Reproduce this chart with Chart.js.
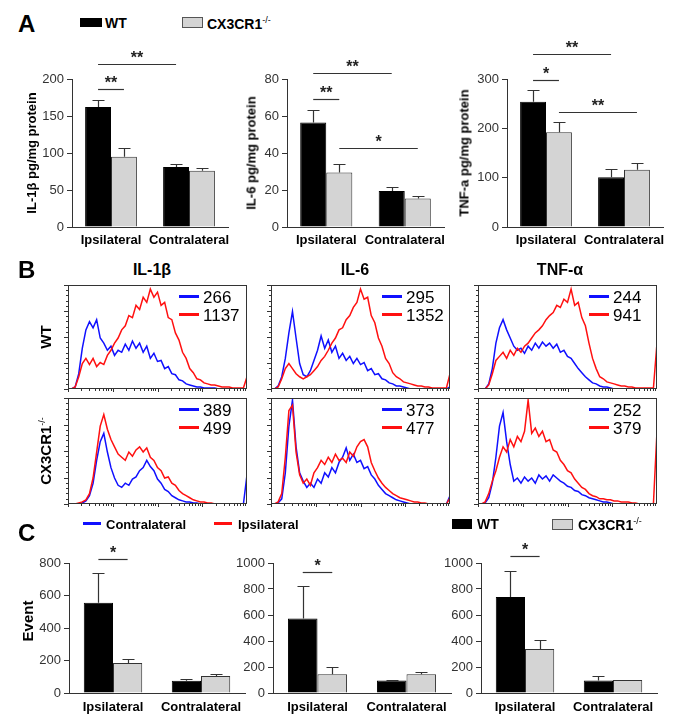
<!DOCTYPE html>
<html>
<head>
<meta charset="utf-8">
<script src="https://cdn.jsdelivr.net/npm/chart.js@4.4.1/dist/chart.umd.min.js"></script>
<style>
html, body { margin: 0; padding: 0; background: #fff; }
body { position: relative; width: 685px; height: 727px; overflow: hidden; font-family: 'Liberation Sans', Arial, sans-serif; }
canvas { position: absolute; }
.t { position: absolute; white-space: nowrap; line-height: 1; color: #000; }
.sw { position: absolute; }
.sup { font-size: 9px; vertical-align: 6px; font-weight: normal; }
</style>
</head>
<body>
<script>
// ===================================
// DATA
// ===================================

const groups = ['Ipsilateral', 'Contralateral'];

// Panel A: cytokine levels (pg/mg protein), mean and SEM
const il1bWT = [162, 81];
const il1bWTErr = [9, 4];
const il1bKO = [95, 76];
const il1bKOErr = [12, 4];
const il6WT = [56.5, 19.4];
const il6WTErr = [6.6, 2.3];
const il6KO = [29.4, 15.4];
const il6KOErr = [4.9, 1.4];
const tnfWT = [254, 101];
const tnfWTErr = [24, 16];
const tnfKO = [192, 116];
const tnfKOErr = [20, 14];

// Panel C: events
const evIl1bWT = [555, 75];
const evIl1bWTErr = [184, 10];
const evIl1bKO = [184, 104];
const evIl1bKOErr = [24, 10];
const evIl6WT = [574, 97];
const evIl6WTErr = [249, 3];
const evIl6KO = [145, 145];
const evIl6KOErr = [54, 13];
const evTnfWT = [739, 97];
const evTnfWTErr = [199, 36];
const evTnfKO = [339, 100];
const evTnfKOErr = [69, 2];

// significance brackets: [dataset a, group a, dataset b, group b, height (data units), label]
const sigIl1b = [[0, 0, 1, 0, 186, '**'], [0, 0, 0, 1, 220, '**']];
const sigIl6 = [[0, 0, 1, 0, 69.4, '**'], [0, 0, 0, 1, 83.4, '**'], [1, 0, 1, 1, 42.5, '*']];
const sigTnf = [[0, 0, 1, 0, 298.6, '*'], [0, 0, 0, 1, 351, '**'], [1, 0, 1, 1, 234, '**']];
const sigEvIl1b = [[0, 0, 1, 0, 826, '*']];
const sigEvIl6 = [[0, 0, 1, 0, 928, '*']];
const sigEvTnf = [[0, 0, 1, 0, 1051, '*']];

// Panel B: histogram channel position (% of axis) and normalised counts
const histX = [0, 2, 4, 6, 8, 10, 12, 14, 16, 18, 20, 22, 24, 26, 28, 30, 32, 34, 36, 38,
    40, 42, 44, 46, 48, 50, 52, 54, 56, 58, 60, 62, 64, 66, 68, 70, 72, 74, 76, 78,
    80, 82, 84, 86, 88, 90, 92, 94, 96, 98, 100];

const il1bWtContra = [0, 0, 0.02, 0.15, 0.4, 0.58, 0.66, 0.6, 0.68, 0.5,
    0.45, 0.38, 0.42, 0.33, 0.38, 0.36, 0.44, 0.38, 0.47, 0.4,
    0.45, 0.36, 0.42, 0.3, 0.35, 0.27, 0.28, 0.2, 0.22, 0.15,
    0.14, 0.09, 0.08, 0.05, 0.04, 0.03, 0.02, 0.02, 0.01, 0.01,
    0.01, 0.01, 0, 0, 0, 0, 0, 0, 0, 0, 0];
const il1bWtIpsi = [0, 0, 0.02, 0.12, 0.25, 0.3, 0.24, 0.3, 0.22, 0.26,
    0.24, 0.33, 0.38, 0.45, 0.5, 0.58, 0.62, 0.72, 0.7, 0.82,
    0.78, 0.9, 0.85, 0.98, 0.9, 0.95, 0.82, 0.85, 0.7, 0.68,
    0.55, 0.48, 0.36, 0.3, 0.2, 0.16, 0.1, 0.09, 0.06, 0.05,
    0.04, 0.04, 0.03, 0.02, 0.02, 0.02, 0.01, 0.01, 0.01, 0.01, 0.12];

const il6WtContra = [0, 0, 0.03, 0.12, 0.3, 0.55, 0.76, 0.5, 0.25, 0.14,
    0.12, 0.18, 0.28, 0.38, 0.52, 0.4, 0.48, 0.36, 0.42, 0.3,
    0.35, 0.28, 0.32, 0.25, 0.3, 0.24, 0.26, 0.18, 0.2, 0.14,
    0.15, 0.1, 0.09, 0.06, 0.05, 0.03, 0.03, 0.02, 0.01, 0,
    0, 0, 0, 0, 0, 0, 0, 0, 0, 0, 0.02];
const il6WtIpsi = [0, 0, 0.02, 0.1, 0.2, 0.25, 0.2, 0.15, 0.12, 0.1,
    0.12, 0.14, 0.18, 0.22, 0.28, 0.32, 0.38, 0.45, 0.5, 0.58,
    0.6, 0.68, 0.72, 0.8, 0.85, 0.98, 0.88, 0.9, 0.72, 0.65,
    0.5, 0.42, 0.3, 0.25, 0.16, 0.12, 0.1, 0.07, 0.06, 0.05,
    0.04, 0.03, 0.03, 0.02, 0.02, 0.01, 0.01, 0.01, 0.01, 0.01, 0.15];

const tnfWtContra = [0, 0, 0, 0.05, 0.2, 0.45, 0.6, 0.68, 0.58, 0.5,
    0.42, 0.38, 0.4, 0.35, 0.42, 0.38, 0.45, 0.4, 0.46, 0.42,
    0.45, 0.4, 0.44, 0.36, 0.38, 0.32, 0.3, 0.25, 0.2, 0.16,
    0.12, 0.09, 0.06, 0.05, 0.03, 0.02, 0.02, 0.01, 0, 0,
    0, 0, 0, 0, 0, 0, 0, 0, 0, 0, 0];
const tnfWtIpsi = [0, 0, 0, 0.04, 0.15, 0.28, 0.32, 0.36, 0.3, 0.38,
    0.33, 0.4, 0.36, 0.42, 0.45, 0.5, 0.55, 0.58, 0.62, 0.68,
    0.72, 0.75, 0.82, 0.8, 0.88, 0.85, 0.98, 0.82, 0.85, 0.7,
    0.62, 0.45, 0.3, 0.2, 0.12, 0.1, 0.07, 0.06, 0.05, 0.04,
    0.03, 0.03, 0.02, 0.02, 0.01, 0.01, 0.01, 0.01, 0.01, 0.01, 0.45];

const il1bKoContra = [0, 0, 0, 0, 0.01, 0.03, 0.08, 0.2, 0.42, 0.6,
    0.68, 0.5, 0.35, 0.25, 0.18, 0.16, 0.2, 0.18, 0.24, 0.26,
    0.32, 0.35, 0.42, 0.36, 0.32, 0.24, 0.2, 0.14, 0.12, 0.08,
    0.06, 0.04, 0.03, 0.02, 0.02, 0.01, 0.01, 0, 0, 0,
    0, 0, 0, 0, 0, 0, 0, 0, 0, 0, 0.28];
const il1bKoIpsi = [0, 0, 0, 0.01, 0.02, 0.04, 0.1, 0.25, 0.5, 0.75,
    0.86, 0.72, 0.62, 0.55, 0.48, 0.45, 0.42, 0.5, 0.46, 0.52,
    0.55, 0.5, 0.54, 0.45, 0.42, 0.35, 0.32, 0.25, 0.26, 0.2,
    0.18, 0.13, 0.1, 0.08, 0.06, 0.04, 0.03, 0.02, 0.02, 0.01,
    0.01, 0, 0, 0, 0, 0, 0, 0, 0, 0, 0];

const il6KoContra = [0, 0, 0.01, 0.05, 0.3, 0.75, 1.0, 0.55, 0.3, 0.22,
    0.16, 0.2, 0.16, 0.24, 0.2, 0.3, 0.26, 0.35, 0.3, 0.4,
    0.45, 0.54, 0.42, 0.48, 0.4, 0.42, 0.34, 0.36, 0.28, 0.24,
    0.18, 0.14, 0.1, 0.08, 0.06, 0.04, 0.03, 0.02, 0.01, 0,
    0, 0, 0, 0, 0, 0, 0, 0, 0, 0, 0.08];
const il6KoIpsi = [0, 0, 0.02, 0.1, 0.45, 0.9, 0.95, 0.5, 0.28, 0.2,
    0.24, 0.18, 0.3, 0.35, 0.42, 0.38, 0.45, 0.4, 0.48, 0.42,
    0.44, 0.4, 0.5, 0.46, 0.55, 0.6, 0.62, 0.55, 0.4, 0.32,
    0.25, 0.2, 0.16, 0.13, 0.1, 0.08, 0.06, 0.05, 0.04, 0.03,
    0.02, 0.02, 0.01, 0.01, 0, 0, 0, 0, 0, 0, 0.06];

const tnfKoContra = [0, 0, 0.01, 0.06, 0.2, 0.45, 0.75, 0.88, 0.6, 0.38,
    0.22, 0.25, 0.2, 0.26, 0.22, 0.25, 0.2, 0.28, 0.24, 0.27,
    0.22, 0.28, 0.25, 0.22, 0.2, 0.17, 0.16, 0.13, 0.12, 0.09,
    0.08, 0.06, 0.05, 0.04, 0.03, 0.02, 0.02, 0.01, 0, 0,
    0, 0, 0, 0, 0, 0, 0, 0, 0, 0, 0];
const tnfKoIpsi = [0, 0, 0.02, 0.1, 0.22, 0.32, 0.45, 0.55, 0.5, 0.62,
    0.55, 0.65, 0.6, 0.7, 1.0, 0.68, 0.73, 0.65, 0.7, 0.6,
    0.62, 0.52, 0.5, 0.42, 0.38, 0.32, 0.3, 0.24, 0.2, 0.16,
    0.14, 0.1, 0.08, 0.07, 0.05, 0.05, 0.04, 0.04, 0.03, 0.03,
    0.02, 0.02, 0.02, 0.01, 0.01, 0, 0, 0, 0, 0, 0.7];

// mean fluorescence values shown in the histogram legends
const histTitles = ['IL-1β', 'IL-6', 'TNF-α'];
const mfiContraWT = [266, 295, 244];
const mfiIpsiWT = [1137, 1352, 941];
const mfiContraKO = [389, 373, 252];
const mfiIpsiKO = [499, 477, 379];

// ===================================
// HELPERS
// ===================================

const FONT = "'Liberation Sans', Arial, sans-serif";
const BLUE = '#1010ff';
const RED = '#ff1010';

function makeCanvas(left, top, w, h) {
    const c = document.createElement('canvas');
    c.width = w;
    c.height = h;
    c.style.left = left + 'px';
    c.style.top = top + 'px';
    document.body.appendChild(c);
    return c;
}

function addText(html, x, y, css, align, rotate) {
    const d = document.createElement('div');
    d.className = 't';
    d.innerHTML = html;
    d.style.left = x + 'px';
    d.style.top = y + 'px';
    const tx = align === 'center' ? '-50%' : (align === 'right' ? '-100%' : '0');
    d.style.transform = 'translate(' + tx + ',-50%)' + (rotate ? ' rotate(-90deg)' : '');
    Object.assign(d.style, css || {});
    document.body.appendChild(d);
}

function addSwatch(x, y, w, h, css) {
    const d = document.createElement('div');
    d.className = 'sw';
    d.style.left = x + 'px';
    d.style.top = y + 'px';
    d.style.width = w + 'px';
    d.style.height = h + 'px';
    Object.assign(d.style, css);
    document.body.appendChild(d);
}

// error bars (upper only) and significance brackets
const barExtras = {
    id: 'barExtras',
    afterDatasetsDraw(chart, args, opts) {
        const ctx = chart.ctx;
        const yScale = chart.scales.y;
        ctx.save();
        ctx.strokeStyle = '#333';
        ctx.lineWidth = 1.2;
        opts.errors.forEach((errs, ds) => {
            const meta = chart.getDatasetMeta(ds);
            meta.data.forEach((bar, i) => {
                const v = chart.data.datasets[ds].data[i];
                const top = Math.round(yScale.getPixelForValue(v + errs[i])) + 0.5;
                const x = Math.round(bar.x) + 0.5;
                ctx.beginPath();
                ctx.moveTo(x, bar.y);
                ctx.lineTo(x, top);
                ctx.moveTo(x - 6, top);
                ctx.lineTo(x + 6, top);
                ctx.stroke();
            });
        });
        ctx.fillStyle = '#222';
        ctx.font = 'bold 16px ' + FONT;
        ctx.textAlign = 'center';
        ctx.textBaseline = 'alphabetic';
        opts.sig.forEach(s => {
            const x1 = chart.getDatasetMeta(s[0]).data[s[1]].x;
            const x2 = chart.getDatasetMeta(s[2]).data[s[3]].x;
            const y = Math.round(yScale.getPixelForValue(s[4])) + 0.5;
            ctx.beginPath();
            ctx.moveTo(x1, y);
            ctx.lineTo(x2, y);
            ctx.stroke();
            ctx.fillText(s[5], (x1 + x2) / 2, y - 2);
        });
        ctx.restore();
    }
};

function drawBars(canvasBox, area, wt, wtErr, ko, koErr, yMax, yStep, sig, tickPad) {
    const [L, T, W, H] = canvasBox;
    const [aL, aR, aT, aB] = area;
    const canvas = makeCanvas(L, T, W, H);
    return new Chart(canvas, {
        type: 'bar',
        data: {
            labels: groups,
            datasets: [
                { data: wt, backgroundColor: '#000', borderColor: '#000', borderWidth: 1,
                  categoryPercentage: 0.664, barPercentage: 1 },
                { data: ko, backgroundColor: '#d4d4d4', borderColor: '#333', borderWidth: 1,
                  categoryPercentage: 0.664, barPercentage: 1 }
            ]
        },
        options: {
            responsive: false,
            animation: false,
            events: [],
            layout: { padding: { left: 0, top: aT - T, right: L + W - aR, bottom: 0 } },
            plugins: {
                legend: { display: false },
                tooltip: { enabled: false },
                barExtras: { errors: [wtErr, koErr], sig: sig }
            },
            scales: {
                x: {
                    grid: { display: false, drawTicks: false },
                    border: { color: '#333', width: 1 },
                    ticks: {
                        color: '#000', padding: tickPad, autoSkip: false, maxRotation: 0, minRotation: 0,
                        font: { family: FONT, size: 13, weight: 'bold' }
                    },
                    afterFit: s => { s.height = T + H - aB; }
                },
                y: {
                    min: 0,
                    max: yMax,
                    ticks: {
                        stepSize: yStep, color: '#333', padding: 3,
                        font: { family: FONT, size: 13 },
                        callback: v => String(v)
                    },
                    grid: { drawOnChartArea: false, tickLength: 5, color: '#333' },
                    border: { color: '#333', width: 1 },
                    afterFit: s => { s.width = aL - L; }
                }
            }
        },
        plugins: [barExtras]
    });
}

// histogram frame with tick marks
const histFrame = {
    id: 'histFrame',
    afterDraw(chart) {
        const ctx = chart.ctx;
        const a = chart.chartArea;
        const w = a.right - a.left;
        const h = a.bottom - a.top;
        ctx.save();
        ctx.strokeStyle = '#333';
        ctx.lineWidth = 1;
        ctx.strokeRect(Math.round(a.left) + 0.5, Math.round(a.top) + 0.5, Math.round(w) - 1, Math.round(h) - 1);
        ctx.beginPath();
        for (let k = 0; k <= 20; k++) {
            const y = Math.round(a.bottom - h * k / 20) + 0.5;
            const len = k % 5 === 0 ? 4 : 2;
            ctx.moveTo(a.left - len, y);
            ctx.lineTo(a.left, y);
        }
        for (let k = 0; k < 4; k++) {
            for (let m = 1; m <= 9; m++) {
                const x = Math.round(a.left + w * (k + Math.log10(m)) / 4) + 0.5;
                const len = m === 1 ? 3 : 2;
                ctx.moveTo(x, a.bottom);
                ctx.lineTo(x, a.bottom + len);
            }
        }
        ctx.stroke();
        ctx.restore();
    }
};

function drawHist(box, ipsi, contra, mfiContra, mfiIpsi) {
    const [x0, x1, y0, y1] = box;
    const canvas = makeCanvas(x0 - 8, y0 - 3, x1 - x0 + 14, y1 - y0 + 10);
    new Chart(canvas, {
        type: 'line',
        data: {
            datasets: [
                { data: histX.map((x, i) => ({ x: x, y: ipsi[i] })), borderColor: RED, borderWidth: 1.5,
                  pointRadius: 0, tension: 0, fill: false },
                { data: histX.map((x, i) => ({ x: x, y: contra[i] })), borderColor: BLUE, borderWidth: 1.5,
                  pointRadius: 0, tension: 0, fill: false }
            ]
        },
        options: {
            responsive: false,
            animation: false,
            events: [],
            layout: { padding: { left: 8, top: 3, right: 6, bottom: 7 } },
            plugins: { legend: { display: false }, tooltip: { enabled: false } },
            scales: {
                x: { type: 'linear', min: 0, max: 100, display: false },
                y: { min: 0, max: 1.02, display: false }
            }
        },
        plugins: [histFrame]
    });
    // legend inside the box
    addSwatch(x0 + 111, y0 + 10, 20, 3, { background: BLUE });
    addText(String(mfiContra), x0 + 135, y0 + 11.5, { fontSize: '17px' }, 'left');
    addSwatch(x0 + 111, y0 + 28, 20, 3, { background: RED });
    addText(String(mfiIpsi), x0 + 135, y0 + 29.5, { fontSize: '17px' }, 'left');
}

// ===================================
// PANEL A
// ===================================

addText('A', 18, 24, { fontSize: '24px', fontWeight: 'bold' }, 'left');
addSwatch(80, 18, 22, 9, { background: '#000' });
addText('WT', 105, 23, { fontSize: '14px', fontWeight: 'bold' }, 'left');
addSwatch(182, 17, 19, 9, { background: '#d4d4d4', border: '1px solid #555' });
addText('CX3CR1<span class="sup">-/-</span>', 207, 23, { fontSize: '14px', fontWeight: 'bold' }, 'left');

drawBars([0, 28, 240, 228], [72, 228, 79, 227], il1bWT, il1bWTErr, il1bKO, il1bKOErr, 200, 50, sigIl1b, 6);
drawBars([230, 28, 225, 228], [287, 444, 79, 227], il6WT, il6WTErr, il6KO, il6KOErr, 80, 20, sigIl6, 6);
drawBars([450, 28, 235, 228], [507, 663, 79, 227], tnfWT, tnfWTErr, tnfKO, tnfKOErr, 300, 100, sigTnf, 6);

const yTitleCss = { fontSize: '13px', fontWeight: 'bold' };
addText('IL-1β pg/mg protein', 31, 153, yTitleCss, 'center', true);
addText('IL-6 pg/mg protein', 251, 153, yTitleCss, 'center', true);
addText('TNF-a pg/mg protein', 464, 153, yTitleCss, 'center', true);

// ===================================
// PANEL B
// ===================================

addText('B', 18, 270, { fontSize: '24px', fontWeight: 'bold' }, 'left');
const titleX = [152, 355, 560];
histTitles.forEach((t, i) => addText(t, titleX[i], 270, { fontSize: '16px', fontWeight: 'bold' }, 'center'));

addText('WT', 45, 337, { fontSize: '15px', fontWeight: 'bold' }, 'center', true);
addText('CX3CR1<span class="sup">-/-</span>', 45, 451, { fontSize: '15px', fontWeight: 'bold' }, 'center', true);

drawHist([68, 247, 285, 389], il1bWtIpsi, il1bWtContra, mfiContraWT[0], mfiIpsiWT[0]);
drawHist([271, 450, 285, 389], il6WtIpsi, il6WtContra, mfiContraWT[1], mfiIpsiWT[1]);
drawHist([478, 657, 285, 389], tnfWtIpsi, tnfWtContra, mfiContraWT[2], mfiIpsiWT[2]);
drawHist([68, 247, 398, 504], il1bKoIpsi, il1bKoContra, mfiContraKO[0], mfiIpsiKO[0]);
drawHist([271, 450, 398, 504], il6KoIpsi, il6KoContra, mfiContraKO[1], mfiIpsiKO[1]);
drawHist([478, 657, 398, 504], tnfKoIpsi, tnfKoContra, mfiContraKO[2], mfiIpsiKO[2]);

// ===================================
// PANEL C
// ===================================

addSwatch(83, 522, 18, 3, { background: BLUE });
addText('Contralateral', 106, 524, { fontSize: '13px', fontWeight: 'bold' }, 'left');
addSwatch(214, 522, 18, 3, { background: RED });
addText('Ipsilateral', 238, 524, { fontSize: '13px', fontWeight: 'bold' }, 'left');
addSwatch(452, 519, 20, 10, { background: '#000' });
addText('WT', 477, 524, { fontSize: '14px', fontWeight: 'bold' }, 'left');
addSwatch(552, 519, 19, 9, { background: '#d4d4d4', border: '1px solid #555' });
addText('CX3CR1<span class="sup">-/-</span>', 578, 524, { fontSize: '14px', fontWeight: 'bold' }, 'left');

addText('C', 18, 533, { fontSize: '24px', fontWeight: 'bold' }, 'left');
addText('Event', 27, 621, { fontSize: '15px', fontWeight: 'bold' }, 'center', true);

drawBars([0, 530, 250, 197], [69, 245, 563, 693], evIl1bWT, evIl1bWTErr, evIl1bKO, evIl1bKOErr, 800, 200, sigEvIl1b, 7);
drawBars([225, 530, 230, 197], [273, 451, 563, 693], evIl6WT, evIl6WTErr, evIl6KO, evIl6KOErr, 1000, 200, sigEvIl6, 7);
drawBars([440, 530, 245, 197], [481, 657, 563, 693], evTnfWT, evTnfWTErr, evTnfKO, evTnfKOErr, 1000, 200, sigEvTnf, 7);
</script>
</body>
</html>
